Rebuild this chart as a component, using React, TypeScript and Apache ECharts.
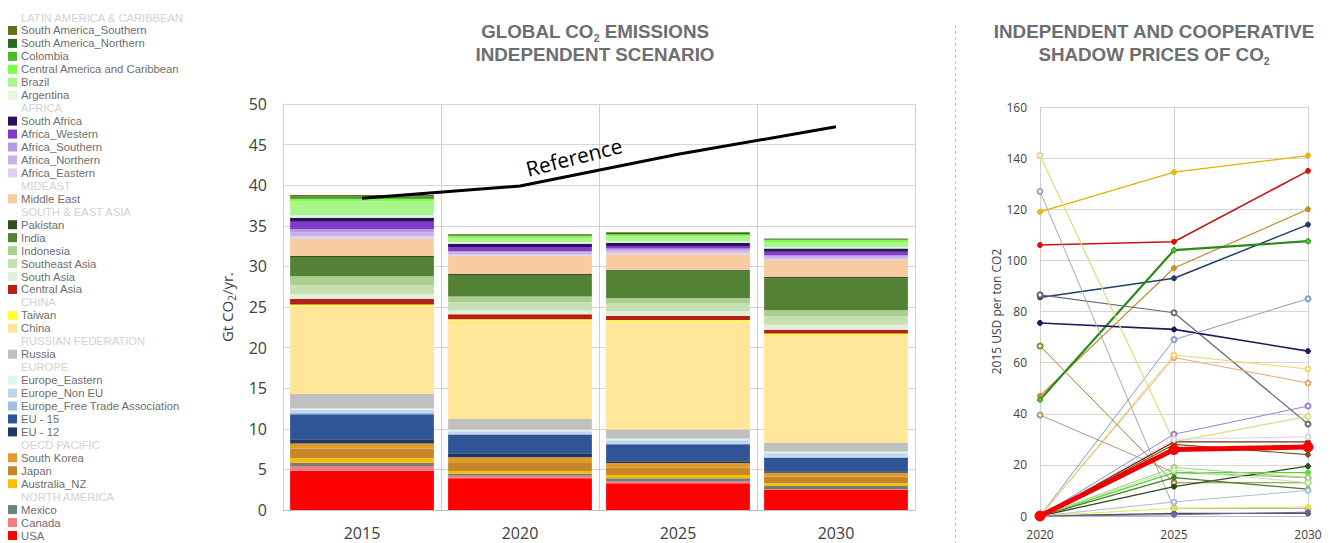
import React, { useEffect, useRef } from 'react';
import * as echarts from 'echarts';

// ---------- DATA ----------
const years = ['2015', '2020', '2025', '2030'];

// stack order, bottom to top
const regions = [
  'USA', 'Canada', 'Mexico', 'Australia_NZ', 'Japan', 'South Korea', 'EU - 12', 'EU - 15',
  'Europe_Free Trade Association', 'Europe_Non EU', 'Europe_Eastern', 'Russia', 'China', 'Taiwan',
  'Central Asia', 'South Asia', 'Southeast Asia', 'Indonesia', 'India', 'Pakistan', 'Middle East',
  'Africa_Eastern', 'Africa_Northern', 'Africa_Southern', 'Africa_Western', 'South Africa',
  'Argentina', 'Brazil', 'Central America and Caribbean', 'Colombia', 'South America_Northern',
  'South America_Southern',
];

const e2015 = [4.84, 0.58, 0.41, 0.53, 1.2, 0.64, 0.5, 3.1, 0.15, 0.35, 0.2, 1.8, 10.8, 0.2, 0.7, 0.6, 1.1, 1.1, 2.35, 0.15, 2.1, 0.3, 0.5, 0.4, 0.9, 0.5, 0.3, 1.7, 0.3, 0.15, 0.15, 0.2];
const e2020 = [3.9, 0.33, 0.27, 0.3, 1.0, 0.7, 0.5, 2.3, 0.1, 0.3, 0.2, 1.3, 12.1, 0.2, 0.6, 0.5, 1.0, 0.7, 2.65, 0.15, 2.2, 0.15, 0.25, 0.2, 0.5, 0.4, 0.2, 0.5, 0.2, 0.1, 0.1, 0.1];
const e2025 = [3.28, 0.22, 0.4, 0.4, 0.9, 0.6, 0.2, 2.1, 0.1, 0.4, 0.2, 1.1, 13.3, 0.2, 0.5, 0.6, 1.0, 0.6, 3.35, 0.15, 1.9, 0.2, 0.3, 0.2, 0.3, 0.4, 0.2, 0.6, 0.2, 0.1, 0.1, 0.1];
const e2030 = [2.46, 0.14, 0.36, 0.32, 0.8, 0.52, 0.16, 1.69, 0.1, 0.45, 0.2, 1.1, 13.25, 0.2, 0.45, 0.6, 1.1, 0.7, 3.95, 0.15, 2.1, 0.15, 0.25, 0.2, 0.4, 0.4, 0.2, 0.6, 0.25, 0.07, 0.07, 0.06];

const referenceLine = [38.4, 39.9, 43.8, 47.2];

const legendGroups = [
  { header: 'LATIN AMERICA & CARIBBEAN', items: ['South America_Southern', 'South America_Northern', 'Colombia', 'Central America and Caribbean', 'Brazil', 'Argentina'] },
  { header: 'AFRICA', items: ['South Africa', 'Africa_Western', 'Africa_Southern', 'Africa_Northern', 'Africa_Eastern'] },
  { header: 'MIDEAST', items: ['Middle East'] },
  { header: 'SOUTH & EAST ASIA', items: ['Pakistan', 'India', 'Indonesia', 'Southeast Asia', 'South Asia', 'Central Asia'] },
  { header: 'CHINA', items: ['Taiwan', 'China'] },
  { header: 'RUSSIAN FEDERATION', items: ['Russia'] },
  { header: 'EUROPE', items: ['Europe_Eastern', 'Europe_Non EU', 'Europe_Free Trade Association', 'EU - 15', 'EU - 12'] },
  { header: 'OECD PACIFIC', items: ['South Korea', 'Japan', 'Australia_NZ'] },
  { header: 'NORTH AMERICA', items: ['Mexico', 'Canada', 'USA'] },
];

const priceYears = ['2020', '2025', '2030'];
const priceNames = [
  'Australia_NZ', 'USA', 'Japan', 'EU - 12', 'Colombia', 'Mexico', 'South Africa',
  'Europe_Free Trade Association', 'Middle East', 'China', 'Argentina', 'Russia',
  'South America_Southern', 'Southeast Asia', 'Cooperative', 'Africa_Western', 'South Korea',
  'South America_Northern', 'Africa_Eastern', 'Pakistan', 'Central America and Caribbean', 'India',
  'Indonesia', 'Brazil', 'Europe_Non EU', 'Canada', 'Taiwan', 'Africa_Southern',
];
const priceValues = [
  [119, 134.5, 141],
  [106, 107.3, 135],
  [47, 97, 120],
  [85.5, 93, 114],
  [45.5, 104, 107.5],
  [86.5, 79.5, 36],
  [75.5, 73, 64.5],
  [0, 69, 85],
  [0, 62, 52],
  [0, 63, 57.5],
  [141, 29, 39],
  [127, 3, 3],
  [66.5, 13, 13],
  [39.5, 17, 15],
  [0, 26, 27],
  [0, 32, 43],
  [0, 29, 29],
  [0, 28, 24],
  [0, 30, 31],
  [0, 11.5, 19.5],
  [0, 17, 17],
  [0, 15, 10.5],
  [0, 19, 15],
  [0, 18, 13],
  [0, 5.5, 10],
  [0, 1, 1],
  [0, 3, 3.5],
  [0, 0.5, 1.5],
];

// ---------- STYLES ----------
const regionColors: Record<string, string> = {
  'USA': '#ff0000', 'Canada': '#f08080', 'Mexico': '#6f7f7f', 'Australia_NZ': '#f7c000',
  'Japan': '#c8862a', 'South Korea': '#e09a2a', 'EU - 12': '#1f3864', 'EU - 15': '#2f5597',
  'Europe_Free Trade Association': '#9dc0e4', 'Europe_Non EU': '#c0d6ee', 'Europe_Eastern': '#dcf6e6',
  'Russia': '#bfbfbf', 'China': '#ffe699', 'Taiwan': '#ffff33', 'Central Asia': '#b41e14',
  'South Asia': '#e2efda', 'Southeast Asia': '#c6e0b4', 'Indonesia': '#a9d08e', 'India': '#548235',
  'Pakistan': '#2f4f1f', 'Middle East': '#f8cba0', 'Africa_Eastern': '#ddd0f0', 'Africa_Northern': '#cab0e6',
  'Africa_Southern': '#b898e0', 'Africa_Western': '#7e3cc8', 'South Africa': '#2b1060',
  'Argentina': '#e2fadc', 'Brazil': '#aaf58c', 'Central America and Caribbean': '#7cff4a',
  'Colombia': '#4cb82c', 'South America_Northern': '#2a6a1a', 'South America_Southern': '#6b6b1e',
};

const priceColors = [
  '#e6b000', '#c01818', '#c08a30', '#1e3c6e', '#2a8a1a', '#6a6a6a', '#2d1460',
  '#7f9fc8', '#eaa870', '#f5d36a', '#e0d884', '#a8a8a8', '#8a8a30', '#a0a080',
  '#ee0000', '#9a80d0', '#7a2a10', '#6b5a1e', '#d8d8e8', '#2d4a1e', '#44dd22',
  '#4a7a2a', '#a8c88a', '#b8e8a0', '#a8bcd8', '#505050', '#e8e840', '#7060b0',
];
const priceMarkerColors = [
  '#f0b800', '#ff0000', '#d09020', '#1e3c6e', '#44cc22', '#6a6a6a', '#2d1460',
  '#7f9fc8', '#eaa870', '#f5d36a', '#e0d884', '#a8a8a8', '#8a8a30', '#a0a080',
  '#ff0000', '#9a80d0', '#7a4a10', '#6b5a1e', '#d8d8e8', '#2d4a1e', '#44ee22',
  '#4a7a2a', '#a8c88a', '#b8e8a0', '#a8bcd8', '#505050', '#e8e840', '#7060b0',
];
const priceWidths = [1.3, 1.6, 1.2, 1.5, 2.2, 1.2, 1.6, 1, 1, 1, 1.2, 1, 1, 1, 5, 1, 1.2, 1.2, 1, 1.3, 1.3, 1.3, 1, 1, 1, 1.3, 1, 1];
const priceHollow = [false, false, false, false, false, true, false, true, true, true, true, true, true, true, false, true, false, false, true, false, false, false, true, true, true, false, false, false];

const AXFONT = '"Open Sans", sans-serif';
const LFONT = '"Liberation Sans", Arial, sans-serif';
const TITLE_COLOR = '#6d6e71';

function buildOption() {
  const emissions = [e2015, e2020, e2025, e2030];
  const barSeries = regions.map((r, i) => ({
    name: r,
    type: 'bar',
    stack: 'total',
    xAxisIndex: 0,
    yAxisIndex: 0,
    barCategoryGap: '9%',
    data: emissions.map((arr) => arr[i]),
    itemStyle: { color: regionColors[r] },
  }));

  const refSeries = {
    name: 'Reference',
    type: 'line',
    xAxisIndex: 0,
    yAxisIndex: 0,
    data: referenceLine,
    symbol: 'none',
    z: 10,
    lineStyle: { color: '#000', width: 3 },
  };

  const priceSeries = priceNames.map((n, i) => ({
    name: n,
    type: 'line',
    xAxisIndex: 1,
    yAxisIndex: 1,
    data: priceValues[i],
    symbol: priceHollow[i] ? 'emptyCircle' : 'circle',
    symbolSize: priceWidths[i] > 3 ? 10 : 5,
    z: priceWidths[i] > 3 ? 5 : 3,
    lineStyle: { color: priceColors[i], width: priceWidths[i] },
    itemStyle: { color: priceMarkerColors[i], borderColor: priceColors[i], borderWidth: 1 },
  }));

  // legend as graphics
  const legendEls: any[] = [];
  let row = 0;
  const y0 = 17.5;
  const step = 12.95;
  legendGroups.forEach((g) => {
    legendEls.push({
      type: 'text', x: 21, y: y0 + row * step,
      style: { text: g.header, fill: '#d2d2d2', font: `11.2px ${LFONT}`, verticalAlign: 'middle' },
    });
    row++;
    g.items.forEach((name) => {
      const yc = y0 + row * step;
      legendEls.push({
        type: 'rect', shape: { x: 8, y: yc - 4.5, width: 9, height: 9 },
        style: { fill: regionColors[name] },
      });
      legendEls.push({
        type: 'text', x: 21, y: yc,
        style: { text: name, fill: '#6e6e6e', font: `11.3px ${LFONT}`, verticalAlign: 'middle' },
      });
      row++;
    });
  });

  const titleRich = {
    a: { fontSize: 18.8, fontWeight: 'bold', fontFamily: LFONT, color: TITLE_COLOR, lineHeight: 23, align: 'center' },
    s: { fontSize: 10.5, fontWeight: 'bold', fontFamily: LFONT, color: TITLE_COLOR, lineHeight: 12, verticalAlign: 'bottom', align: 'center' },
  };

  const graphics = [
    ...legendEls,
    {
      type: 'text', x: 595, y: 20,
      style: {
        text: '{a|GLOBAL CO}{s|2}{a| EMISSIONS}\n{a|INDEPENDENT SCENARIO}',
        rich: titleRich, align: 'center', verticalAlign: 'top', fill: TITLE_COLOR,
      },
    },
    {
      type: 'text', x: 1154, y: 20,
      style: {
        text: '{a|INDEPENDENT AND COOPERATIVE}\n{a|SHADOW PRICES OF CO}{s|2}',
        rich: titleRich, align: 'center', verticalAlign: 'top', fill: TITLE_COLOR,
      },
    },
    {
      type: 'line',
      shape: { x1: 955.5, y1: 25, x2: 955.5, y2: 543 },
      style: { stroke: '#bdbdbd', lineWidth: 1, lineDash: [3, 3] },
    },
    {
      type: 'text', x: 574, y: 157, rotation: 0.25, z: 20,
      style: { text: 'Reference', fill: '#000', font: `21px ${AXFONT}`, align: 'center', verticalAlign: 'middle' },
    },
  ];

  return {
    animation: false,
    backgroundColor: '#ffffff',
    grid: [
      { left: 283, right: 418, top: 104, bottom: 33 },
      { left: 1040, right: 25, top: 107, bottom: 27 },
    ],
    xAxis: [
      {
        type: 'category', gridIndex: 0, data: years, boundaryGap: true,
        axisTick: { show: false },
        axisLine: { lineStyle: { color: '#bfbfbf' } },
        axisLabel: { color: '#404040', fontSize: 16, fontFamily: AXFONT, margin: 15 },
        splitLine: { show: true, lineStyle: { color: '#cfcfcf' } },
      },
      {
        type: 'category', gridIndex: 1, data: priceYears, boundaryGap: false,
        axisTick: { show: false },
        axisLine: { lineStyle: { color: '#bfbfbf' } },
        axisLabel: { color: '#404040', fontSize: 12, fontFamily: AXFONT, margin: 12 },
        splitLine: { show: true, lineStyle: { color: '#cfcfcf' } },
      },
    ],
    yAxis: [
      {
        type: 'value', gridIndex: 0, min: 0, max: 50, interval: 5,
        axisLine: { show: true, lineStyle: { color: '#cfcfcf' } },
        axisTick: { show: false },
        axisLabel: { color: '#404040', fontSize: 16, fontFamily: AXFONT, margin: 16 },
        splitLine: { lineStyle: { color: '#d6d6d6' } },
        name: '{n|Gt CO}{s|2}{n|/yr.}',
        nameLocation: 'middle', nameGap: 46, nameRotate: 90,
        nameTextStyle: {
          rich: {
            n: { fontSize: 15, fontFamily: AXFONT, color: '#404040', lineHeight: 20 },
            s: { fontSize: 10, fontFamily: AXFONT, color: '#404040', lineHeight: 10, verticalAlign: 'bottom' },
          },
        },
      },
      {
        type: 'value', gridIndex: 1, min: 0, max: 160, interval: 20,
        axisLine: { show: false },
        axisTick: { show: false },
        axisLabel: { color: '#404040', fontSize: 12, fontFamily: AXFONT, margin: 13 },
        splitLine: { lineStyle: { color: '#d6d6d6' } },
        name: '2015 USD per ton CO2',
        nameLocation: 'middle', nameGap: 38, nameRotate: 90,
        nameTextStyle: { fontSize: 12, fontFamily: AXFONT, color: '#404040' },
      },
    ],
    series: [...barSeries, refSeries, ...priceSeries],
    graphic: graphics,
  };
}

export default function App() {
  const ref = useRef<HTMLDivElement>(null);
  useEffect(() => {
    if (!ref.current) return;
    const chart = echarts.init(ref.current, undefined, { renderer: 'svg' });
    chart.setOption(buildOption() as any);
    return () => chart.dispose();
  }, []);
  return (
    <div
      ref={ref}
      style={{ position: 'fixed', left: 0, top: 0, width: 1333, height: 543, background: '#fff' }}
    />
  );
}
